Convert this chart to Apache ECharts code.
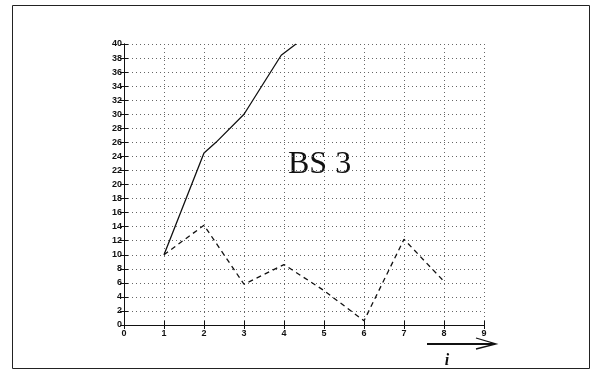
<!DOCTYPE html>
<html><head><meta charset="utf-8">
<script src="https://cdn.jsdelivr.net/npm/echarts@6/dist/echarts.min.js"></script>
<style>html,body{margin:0;padding:0;background:#fff}#c{width:602px;height:379px}</style>
</head><body><div id="c"></div>
<script>
var solidX = [1, 2, 2.3, 3, 3.93, 4.3];
var solidY = [10, 24.5, 26, 30, 38.4, 40];
var dashX = [1, 2, 3, 4, 5, 6, 7, 8];
var dashY = [10, 14.2, 5.8, 8.6, 4.9, 0.6, 12.2, 6.2];
var xTicks = [0, 1, 2, 3, 4, 5, 6, 7, 8, 9];
var yTicks = [0, 2, 4, 6, 8, 10, 12, 14, 16, 18, 20, 22, 24, 26, 28, 30, 32, 34, 36, 38, 40];
var annotation = 'BS 3';
var xName = 'i';

function pairs(xs, ys) { return xs.map(function (x, i) { return [x, ys[i]]; }); }

var chart = echarts.init(document.getElementById('c'), null, { renderer: 'canvas' });
var axisLine = { show: true, lineStyle: { color: '#111', width: 1 } };
var tick = { show: true, inside: true, length: 4, lineStyle: { color: '#111' } };
var grid = { show: true, lineStyle: { type: [1, 3], color: '#666', width: 1 } };
var lab = { fontFamily: 'Liberation Sans', fontWeight: 'bold', fontSize: 9, color: '#111' };
chart.setOption({
  animation: false,
  grid: { left: 124, right: 118, top: 44, bottom: 54, containLabel: false },
  xAxis: [
    { type: 'value', min: xTicks[0], max: xTicks[xTicks.length - 1], interval: 1, position: 'bottom',
      axisLine: axisLine, axisTick: tick, splitLine: grid,
      axisLabel: Object.assign({ margin: 4 }, lab) },
    { type: 'value', min: xTicks[0], max: xTicks[xTicks.length - 1], interval: 1, position: 'top',
      axisLine: axisLine, axisTick: tick, splitLine: { show: false }, axisLabel: { show: false } }
  ],
  yAxis: [
    { type: 'value', min: yTicks[0], max: yTicks[yTicks.length - 1], interval: 2, position: 'left',
      axisLine: axisLine, axisTick: tick, splitLine: grid,
      axisLabel: Object.assign({ margin: 2 }, lab) },
    { type: 'value', min: yTicks[0], max: yTicks[yTicks.length - 1], interval: 2, position: 'right',
      axisLine: axisLine, axisTick: tick, splitLine: { show: false }, axisLabel: { show: false } }
  ],
  series: [
    { type: 'line', data: pairs(solidX, solidY), symbol: 'none', clip: true,
      lineStyle: { color: '#111', width: 1.3, type: 'solid' } },
    { type: 'line', data: pairs(dashX, dashY), symbol: 'none', clip: true,
      lineStyle: { color: '#111', width: 1.3, type: [5, 4] } }
  ],
  graphic: [
    { type: 'rect', shape: { x: 12.5, y: 5.5, width: 577, height: 363 },
      style: { fill: null, stroke: '#222', lineWidth: 1 }, silent: true },
    { type: 'text', x: 288, y: 149,
      style: { text: annotation, font: '32px "Liberation Serif"', fill: '#111' } },
    { type: 'polyline', shape: { points: [[427, 344], [495, 344]] },
      style: { stroke: '#111', lineWidth: 2, fill: null } },
    { type: 'polyline', shape: { points: [[476, 338], [496, 344], [476, 349]] },
      style: { stroke: '#111', lineWidth: 1.3, fill: null } },
    { type: 'text', x: 447, y: 361,
      style: { text: xName, font: 'italic bold 16px "Liberation Serif"', fill: '#111', align: 'center', verticalAlign: 'middle' } }
  ]
});
</script></body></html>
